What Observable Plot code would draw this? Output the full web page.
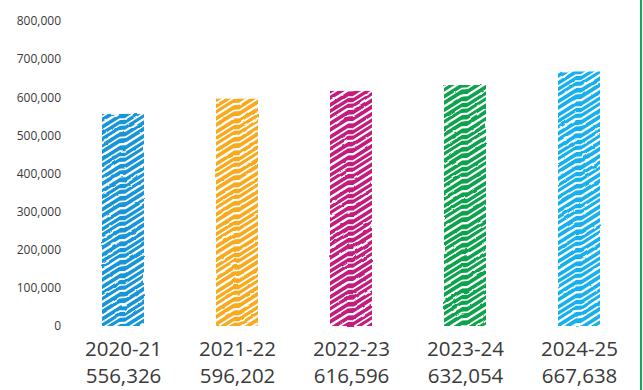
<!DOCTYPE html>
<html>
<head>
<meta charset="utf-8">
<script src="https://cdn.jsdelivr.net/npm/d3@7"></script>
<script src="https://cdn.jsdelivr.net/npm/@observablehq/plot@0.6"></script>
<style>
  html, body { margin: 0; padding: 0; background: #fff; }
  #chart { position: relative; width: 643px; height: 390px; overflow: hidden; }
  #chart .edge { position: absolute; top: 0; left: 640px; width: 2px; height: 390px; background: #15a85a; }
  #chart svg { position: absolute; left: 0; top: 0; }
</style>
</head>
<body>
<div id="chart"><div class="edge"></div></div>
<script>
// Yearly totals
const years = ["2020-21", "2021-22", "2022-23", "2023-24", "2024-25"];
const totals = [556326, 596202, 616596, 632054, 667638];
const barColors = ["#1696d8", "#f8a91f", "#c41b7c", "#07a24b", "#17b1ed"];
const yTicks = [0, 100000, 200000, 300000, 400000, 500000, 600000, 700000, 800000];

const rows = years.map((year, i) => ({year, total: totals[i]}));
const fillIds = years.map((_, i) => `scribble-${i}`);
const fmt = d3.format(",");

const chart = Plot.plot({
  width: 643,
  height: 390,
  marginTop: 21,
  marginBottom: 64,
  marginLeft: 66.5,
  marginRight: 6.5,
  style: {fontFamily: "'Open Sans', sans-serif", fontSize: "12px", color: "#3a3a3a", background: "transparent", overflow: "visible"},
  x: {domain: years, paddingInner: 0.63, paddingOuter: 0.315, label: null},
  y: {domain: [0, 800000], label: null},
  color: {type: "ordinal", domain: years, range: fillIds.map(id => `url(#${id})`)},
  marks: [
    Plot.axisY({ticks: yTicks, tickSize: 0, tickPadding: 6, tickFormat: fmt, fontSize: 12}),
    Plot.axisX({
      tickSize: 0,
      tickPadding: 11,
      fontSize: 20.5,
      lineHeight: 1.3,
      tickFormat: d => `${d}\n${fmt(totals[years.indexOf(d)])}`
    }),
    Plot.barY(rows, {x: "year", y: "total", fill: "year"})
  ]
});

// Hand-scribbled fills: coloured tiles crossed by white rising strokes with a flat step mid-bar
const xs = chart.scale("x");
const bw = xs.bandwidth;
const svg = d3.select(chart);
const defs = svg.insert("defs", ":first-child");

const rough = defs.append("filter").attr("id", "rough")
  .attr("x", "-10%").attr("y", "-5%").attr("width", "120%").attr("height", "110%");
rough.append("feTurbulence").attr("type", "fractalNoise").attr("baseFrequency", 0.1)
  .attr("numOctaves", 2).attr("seed", 4).attr("result", "noise");
rough.append("feDisplacementMap").attr("in", "SourceGraphic").attr("in2", "noise")
  .attr("scale", 2.2).attr("xChannelSelector", "R").attr("yChannelSelector", "G");

const H = 32;
const strokes = [
  {o: 0, w: 2.2},
  {o: 6.6, w: 1.7},
  {o: 13.4, w: 2.4},
  {o: 20.2, w: 1.8},
  {o: 26.1, w: 1.5}
];

years.forEach((year, i) => {
  const x0 = xs.apply(year);
  const p = defs.append("pattern")
    .attr("id", fillIds[i])
    .attr("patternUnits", "userSpaceOnUse")
    .attr("width", bw)
    .attr("height", H)
    .attr("patternTransform", `translate(${x0},${i * 5})`);
  p.append("rect").attr("width", bw).attr("height", H).attr("fill", barColors[i]);
  for (let k = -2; k <= 2; k++) {
    strokes.forEach(s => {
      const o = k * H + s.o;
      p.append("path")
        .attr("d", `M-3,${o + 16} L${bw * 0.42},${o + 3} L${bw * 0.56},${o + 2.6} L${bw + 3},${o - 11}`)
        .attr("fill", "none")
        .attr("stroke", "#fff")
        .attr("stroke-width", s.w)
        .attr("stroke-linecap", "round")
        .attr("stroke-linejoin", "round");
    });
  }
});

svg.selectAll("g[aria-label='bar'] rect").attr("filter", "url(#rough)");

document.getElementById("chart").appendChild(chart);
</script>
</body>
</html>
